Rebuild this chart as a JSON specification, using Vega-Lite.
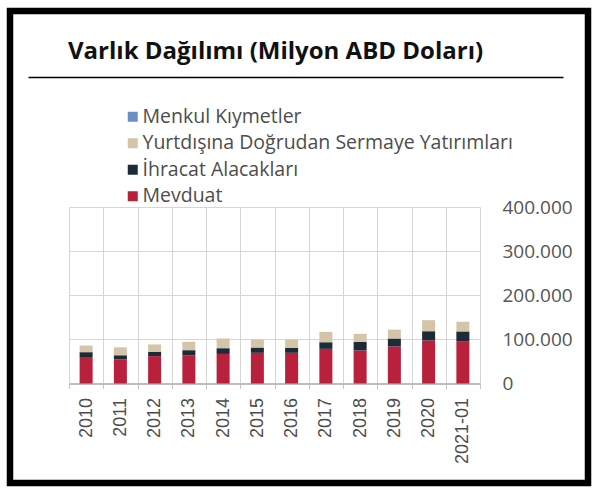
{
  "$schema": "https://vega.github.io/schema/vega-lite/v6.json",
  "width": 578,
  "height": 472,
  "autosize": {"type": "none"},
  "padding": {"left": 10, "top": 11, "right": 12, "bottom": 14},
  "background": "white",
  "title": {
    "text": "Varlık Dağılımı (Milyon ABD Doları)",
    "anchor": "start",
    "frame": "group",
    "orient": "top",
    "offset": -72,
    "dx": 58,
    "baseline": "alphabetic",
    "font": "Open Sans",
    "fontSize": 24,
    "fontWeight": "bold",
    "color": "#111111"
  },
  "data": {
    "values": [
      {"yil": "2010", "kalem": "Mevduat", "sira": 1, "deger": 60000},
      {"yil": "2010", "kalem": "İhracat Alacakları", "sira": 2, "deger": 11000},
      {"yil": "2010", "kalem": "Yurtdışına Doğrudan Sermaye Yatırımları", "sira": 3, "deger": 15000},
      {"yil": "2010", "kalem": "Menkul Kıymetler", "sira": 4, "deger": 0},
      {"yil": "2011", "kalem": "Mevduat", "sira": 1, "deger": 54500},
      {"yil": "2011", "kalem": "İhracat Alacakları", "sira": 2, "deger": 9500},
      {"yil": "2011", "kalem": "Yurtdışına Doğrudan Sermaye Yatırımları", "sira": 3, "deger": 18000},
      {"yil": "2011", "kalem": "Menkul Kıymetler", "sira": 4, "deger": 0},
      {"yil": "2012", "kalem": "Mevduat", "sira": 1, "deger": 62000},
      {"yil": "2012", "kalem": "İhracat Alacakları", "sira": 2, "deger": 10000},
      {"yil": "2012", "kalem": "Yurtdışına Doğrudan Sermaye Yatırımları", "sira": 3, "deger": 16500},
      {"yil": "2012", "kalem": "Menkul Kıymetler", "sira": 4, "deger": 0},
      {"yil": "2013", "kalem": "Mevduat", "sira": 1, "deger": 63500},
      {"yil": "2013", "kalem": "İhracat Alacakları", "sira": 2, "deger": 12000},
      {"yil": "2013", "kalem": "Yurtdışına Doğrudan Sermaye Yatırımları", "sira": 3, "deger": 19000},
      {"yil": "2013", "kalem": "Menkul Kıymetler", "sira": 4, "deger": 0},
      {"yil": "2014", "kalem": "Mevduat", "sira": 1, "deger": 67000},
      {"yil": "2014", "kalem": "İhracat Alacakları", "sira": 2, "deger": 13000},
      {"yil": "2014", "kalem": "Yurtdışına Doğrudan Sermaye Yatırımları", "sira": 3, "deger": 22000},
      {"yil": "2014", "kalem": "Menkul Kıymetler", "sira": 4, "deger": 0},
      {"yil": "2015", "kalem": "Mevduat", "sira": 1, "deger": 69500},
      {"yil": "2015", "kalem": "İhracat Alacakları", "sira": 2, "deger": 12000},
      {"yil": "2015", "kalem": "Yurtdışına Doğrudan Sermaye Yatırımları", "sira": 3, "deger": 18000},
      {"yil": "2015", "kalem": "Menkul Kıymetler", "sira": 4, "deger": 0},
      {"yil": "2016", "kalem": "Mevduat", "sira": 1, "deger": 69500},
      {"yil": "2016", "kalem": "İhracat Alacakları", "sira": 2, "deger": 11000},
      {"yil": "2016", "kalem": "Yurtdışına Doğrudan Sermaye Yatırımları", "sira": 3, "deger": 19000},
      {"yil": "2016", "kalem": "Menkul Kıymetler", "sira": 4, "deger": 0},
      {"yil": "2017", "kalem": "Mevduat", "sira": 1, "deger": 78500},
      {"yil": "2017", "kalem": "İhracat Alacakları", "sira": 2, "deger": 15000},
      {"yil": "2017", "kalem": "Yurtdışına Doğrudan Sermaye Yatırımları", "sira": 3, "deger": 23500},
      {"yil": "2017", "kalem": "Menkul Kıymetler", "sira": 4, "deger": 0},
      {"yil": "2018", "kalem": "Mevduat", "sira": 1, "deger": 75000},
      {"yil": "2018", "kalem": "İhracat Alacakları", "sira": 2, "deger": 19500},
      {"yil": "2018", "kalem": "Yurtdışına Doğrudan Sermaye Yatırımları", "sira": 3, "deger": 18000},
      {"yil": "2018", "kalem": "Menkul Kıymetler", "sira": 4, "deger": 0},
      {"yil": "2019", "kalem": "Mevduat", "sira": 1, "deger": 84000},
      {"yil": "2019", "kalem": "İhracat Alacakları", "sira": 2, "deger": 18000},
      {"yil": "2019", "kalem": "Yurtdışına Doğrudan Sermaye Yatırımları", "sira": 3, "deger": 20000},
      {"yil": "2019", "kalem": "Menkul Kıymetler", "sira": 4, "deger": 0},
      {"yil": "2020", "kalem": "Mevduat", "sira": 1, "deger": 97500},
      {"yil": "2020", "kalem": "İhracat Alacakları", "sira": 2, "deger": 21000},
      {"yil": "2020", "kalem": "Yurtdışına Doğrudan Sermaye Yatırımları", "sira": 3, "deger": 25000},
      {"yil": "2020", "kalem": "Menkul Kıymetler", "sira": 4, "deger": 0},
      {"yil": "2021-01", "kalem": "Mevduat", "sira": 1, "deger": 96000},
      {"yil": "2021-01", "kalem": "İhracat Alacakları", "sira": 2, "deger": 22000},
      {"yil": "2021-01", "kalem": "Yurtdışına Doğrudan Sermaye Yatırımları", "sira": 3, "deger": 22000},
      {"yil": "2021-01", "kalem": "Menkul Kıymetler", "sira": 4, "deger": 0}
    ]
  },
  "layer": [
    {
      "mark": {"type": "bar", "width": {"band": 0.38}},
      "encoding": {
        "x": {
          "field": "yil", "type": "nominal", "sort": null,
          "scale": {"range": [59, 470], "paddingInner": 0, "paddingOuter": 0},
          "axis": {
            "orient": "top", "offset": -196, "title": null,
            "labels": false, "ticks": false, "domain": false,
            "grid": true, "tickBand": "extent",
            "gridColor": "#d6d6d6", "gridWidth": 1
          }
        },
        "y": {
          "field": "deger", "type": "quantitative", "stack": "zero",
          "scale": {"domain": [0, 400000], "range": [372.5, 196], "nice": false, "zero": true},
          "axis": {
            "orient": "left", "offset": -59, "title": null,
            "values": [0, 100000, 200000, 300000, 400000],
            "labels": false, "ticks": false, "domain": false,
            "grid": true, "gridColor": "#d6d6d6", "gridWidth": 1
          }
        },
        "color": {
          "field": "kalem", "type": "nominal",
          "scale": {
            "domain": ["Menkul Kıymetler", "Yurtdışına Doğrudan Sermaye Yatırımları", "İhracat Alacakları", "Mevduat"],
            "range": ["#6a8fc4", "#d4c5a9", "#1d2b36", "#b8203c"]
          },
          "legend": {
            "orient": "none", "legendX": 113, "legendY": 96,
            "title": null, "padding": 0,
            "symbolType": "square", "symbolSize": 100, "symbolStrokeWidth": 0,
            "labelFont": "Open Sans", "labelFontSize": 19.5, "labelColor": "#4d4d4d",
            "labelOffset": 0, "rowPadding": 5.5, "labelLimit": 500
          }
        },
        "order": {"field": "sira", "type": "quantitative"}
      }
    },
    {
      "mark": {"type": "point", "opacity": 0},
      "encoding": {
        "x": {
          "field": "yil", "type": "nominal", "sort": null,
          "scale": {"range": [59, 470], "paddingInner": 0, "paddingOuter": 0},
          "axis": {
            "orient": "bottom", "offset": -99.5, "title": null,
            "labelAngle": 270, "labelFont": "Liberation Sans Narrow, Liberation Sans",
            "labelFontSize": 18, "labelColor": "#4d4d4d", "labelPadding": 9,
            "ticks": true, "tickSize": 5, "tickColor": "#c4c4c4", "tickBand": "extent",
            "domain": true, "domainColor": "#bdbdbd", "domainWidth": 2,
            "grid": false
          }
        },
        "y": {
          "field": "deger", "type": "quantitative",
          "axis": {
            "orient": "right", "offset": -108, "title": null,
            "values": [0, 100000, 200000, 300000, 400000], "format": ",.0f",
            "labelFont": "Open Sans", "labelFontSize": 19, "labelColor": "#555555",
            "labelPadding": 22, "ticks": false, "domain": false, "grid": false
          }
        }
      }
    },
    {
      "mark": {"type": "point", "opacity": 0},
      "encoding": {
        "x": {
          "datum": 0, "type": "quantitative",
          "scale": {"domain": [0, 1], "range": [18, 553]},
          "axis": {
            "orient": "top", "offset": -66, "title": null,
            "labels": false, "ticks": false, "grid": false,
            "domain": true, "domainColor": "#000000", "domainWidth": 1.3
          }
        }
      }
    }
  ],
  "resolve": {
    "scale": {"x": "independent"},
    "axis": {"x": "independent", "y": "independent"}
  },
  "config": {
    "view": {"stroke": "black", "strokeWidth": 6.5},
    "locale": {
      "number": {"decimal": ",", "thousands": ".", "grouping": [3], "currency": ["", " $"]}
    }
  }
}
